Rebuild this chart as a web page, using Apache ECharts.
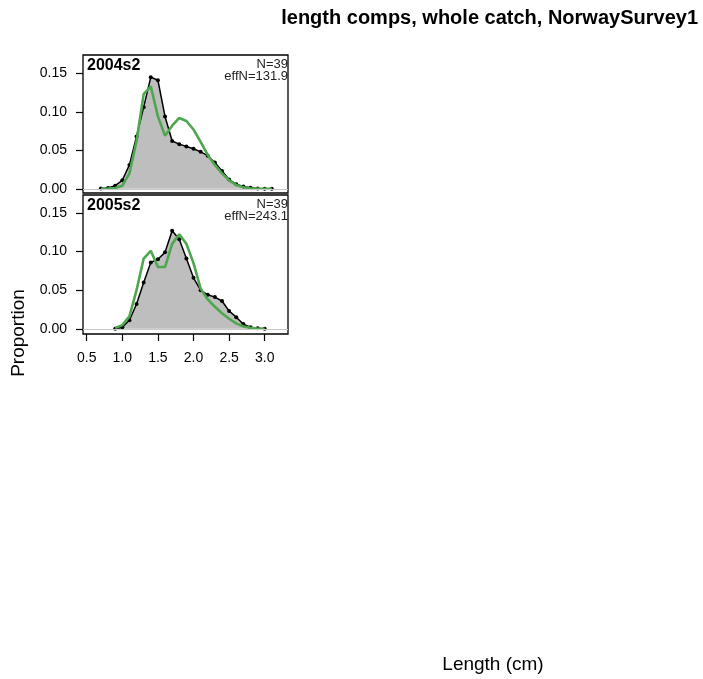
<!DOCTYPE html>
<html>
<head>
<meta charset="utf-8">
<script src="https://cdn.jsdelivr.net/npm/echarts@6/dist/echarts.min.js"></script>
<style>
  html, body { margin: 0; padding: 0; background: #fff; }
  #chart { width: 703px; height: 679px; }
</style>
</head>
<body>
<div id="chart"></div>
<script>
// Length bins (cm) and proportions for each survey year
const lengthBins2004 = [0.7, 0.8, 0.9, 1.0, 1.1, 1.2, 1.3, 1.4, 1.5, 1.6, 1.7, 1.8, 1.9, 2.0, 2.1, 2.2, 2.3, 2.4, 2.5, 2.6, 2.7, 2.8, 2.9, 3.0, 3.1];
const observed2004 = [0.0003, 0.001, 0.004, 0.011, 0.031, 0.068, 0.106, 0.145, 0.141, 0.094, 0.062, 0.058, 0.055, 0.052, 0.048, 0.043, 0.034, 0.023, 0.012, 0.006, 0.003, 0.0012, 0.0004, 0.0001, 0.0];
const expected2004 = [0.0, 0.0002, 0.001, 0.004, 0.020, 0.062, 0.123, 0.133, 0.094, 0.069, 0.082, 0.092, 0.088, 0.077, 0.061, 0.044, 0.031, 0.020, 0.011, 0.005, 0.002, 0.0007, 0.0002, 0.0001, 0.0];

const lengthBins2005 = [0.9, 1.0, 1.1, 1.2, 1.3, 1.4, 1.5, 1.6, 1.7, 1.8, 1.9, 2.0, 2.1, 2.2, 2.3, 2.4, 2.5, 2.6, 2.7, 2.8, 2.9, 3.0];
const observed2005 = [0.0, 0.002, 0.011, 0.032, 0.060, 0.086, 0.090, 0.099, 0.127, 0.116, 0.091, 0.066, 0.050, 0.044, 0.041, 0.036, 0.023, 0.015, 0.006, 0.002, 0.0005, 0.0];
const expected2005 = [0.001, 0.0047, 0.016, 0.050, 0.091, 0.101, 0.080, 0.080, 0.110, 0.1225, 0.110, 0.085, 0.052, 0.038, 0.0285, 0.020, 0.013, 0.007, 0.003, 0.0013, 0.0004, 0.0001];

const panelNames = ['2004s2', '2005s2'];
const sampleSizes = ['N=39', 'N=39'];
const effectiveN = ['effN=131.9', 'effN=243.1'];

const xTickValues = [0.5, 1.0, 1.5, 2.0, 2.5, 3.0];
const yTickValues = [0, 0.05, 0.10, 0.15];

const titleText = 'length comps, whole catch, NorwaySurvey1';
const xTitle = 'Length (cm)';
const yTitle = 'Proportion';

const FONT = '"Liberation Sans", Arial, sans-serif';
const FILL_GREY = '#bebebe';
const FIT_GREEN = '#4ea64e';

const panels = [
  { bins: lengthBins2004, obs: observed2004, exp: expected2004, top: 55, height: 138, yMin: -0.0055, yMax: 0.1738 },
  { bins: lengthBins2005, obs: observed2005, exp: expected2005, top: 195, height: 139, yMin: -0.0068, yMax: 0.1733 }
];

const grids = [], xAxes = [], yAxes = [], series = [], graphics = [];

panels.forEach((p, i) => {
  const isBottom = i === panels.length - 1;
  grids.push({
    left: 83, width: 205, top: p.top, height: p.height,
    show: true, borderColor: '#000', borderWidth: 1.3, backgroundColor: 'transparent'
  });
  xAxes.push({
    type: 'value', gridIndex: i, min: 0.448, max: 3.327,
    axisLine: { show: false, onZero: false },
    splitLine: { show: false },
    axisTick: { show: isBottom, inside: false, length: 7, lineStyle: { color: '#000', width: 1.2 }, customValues: xTickValues },
    axisLabel: {
      show: isBottom, margin: 17, color: '#000', fontSize: 14, fontFamily: FONT,
      customValues: xTickValues, formatter: v => v.toFixed(1)
    }
  });
  yAxes.push({
    type: 'value', gridIndex: i, min: p.yMin, max: p.yMax,
    axisLine: { show: false, onZero: false },
    splitLine: { show: false },
    axisTick: { show: true, inside: false, length: 7, lineStyle: { color: '#000', width: 1.2 }, customValues: yTickValues },
    axisLabel: {
      show: true, margin: 16, color: '#000', fontSize: 14, fontFamily: FONT,
      customValues: yTickValues, formatter: v => v.toFixed(2)
    }
  });
  // observed proportions: grey polygon, black line and points
  series.push({
    type: 'line', xAxisIndex: i, yAxisIndex: i,
    data: p.bins.map((b, k) => [b, p.obs[k]]),
    symbol: 'circle', symbolSize: 4, showSymbol: true,
    itemStyle: { color: '#000' },
    lineStyle: { color: '#000', width: 1.5 },
    areaStyle: { color: FILL_GREY, opacity: 1, origin: 'auto' },
    silent: true, animation: false, z: 2,
    markLine: {
      silent: true, symbol: 'none', label: { show: false }, animation: false,
      lineStyle: { color: '#c8c8c8', width: 1, type: 'solid' },
      data: [{ yAxis: 0 }]
    }
  });
  // expected proportions
  series.push({
    type: 'line', xAxisIndex: i, yAxisIndex: i,
    data: p.bins.map((b, k) => [b, p.exp[k]]),
    symbol: 'none',
    lineStyle: { color: FIT_GREEN, width: 2.6 },
    silent: true, animation: false, z: 3
  });

  graphics.push(
    { type: 'text', x: 87, y: p.top + 11, style: { text: panelNames[i], font: 'bold 16px ' + FONT, fill: '#000', align: 'left', verticalAlign: 'middle' } },
    { type: 'text', x: 288, y: p.top + 9, style: { text: sampleSizes[i], font: '13px ' + FONT, fill: '#222', align: 'right', verticalAlign: 'middle' } },
    { type: 'text', x: 288, y: p.top + 21, style: { text: effectiveN[i], font: '13px ' + FONT, fill: '#222', align: 'right', verticalAlign: 'middle' } }
  );
});

graphics.push(
  { type: 'text', x: 698, y: 18, style: { text: titleText, font: 'bold 20px ' + FONT, fill: '#000', align: 'right', verticalAlign: 'middle' } },
  { type: 'text', x: 493, y: 665, style: { text: xTitle, font: '19px ' + FONT, fill: '#000', align: 'center', verticalAlign: 'middle' } },
  { type: 'text', x: 19, y: 333, rotation: Math.PI / 2, style: { text: yTitle, font: '19px ' + FONT, fill: '#000', align: 'center', verticalAlign: 'middle' } }
);

const chart = echarts.init(document.getElementById('chart'), null, { renderer: 'canvas' });
chart.setOption({
  backgroundColor: '#fff',
  animation: false,
  grid: grids,
  xAxis: xAxes,
  yAxis: yAxes,
  series: series,
  graphic: graphics
});
</script>
</body>
</html>
